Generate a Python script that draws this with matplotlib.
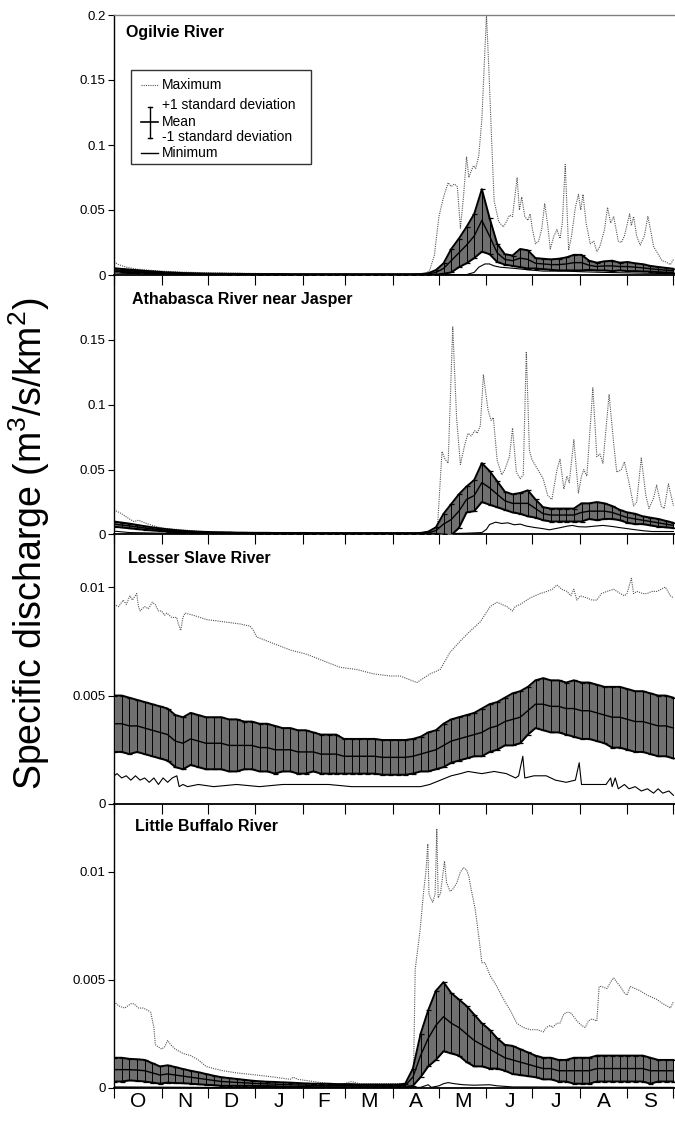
import numpy as np
import matplotlib
matplotlib.use('Agg')
import matplotlib.pyplot as plt
from matplotlib.lines import Line2D
from matplotlib.patches import Rectangle

plt.rcParams['font.family'] = ['Liberation Sans', 'DejaVu Sans']
plt.rcParams['mathtext.fontset'] = 'custom'
plt.rcParams['mathtext.rm'] = 'Liberation Sans'
plt.rcParams['mathtext.it'] = 'Liberation Sans:italic'

# --- Data: water year day (0 = 1 Oct) ---
months = ['O', 'N', 'D', 'J', 'F', 'M', 'A', 'M', 'J', 'J', 'A', 'S']
month_edges = [0, 31, 61, 92, 123, 151, 182, 212, 243, 273, 304, 335, 365]

# 5-day grid for mean and standard deviation
days = np.arange(0, 366, 5)

# Ogilvie River
ogilvie_mean = [
    0.0040, 0.0036, 0.0032, 0.0028, 0.0024, 0.0021, 0.0018, 0.0015, 0.0013, 0.0011, 0.0010, 0.0009, 0.0008,
    0.0007, 0.0007, 0.0006, 0.0006, 0.0006, 0.0005, 0.0005, 0.0005, 0.0005, 0.0005, 0.0004, 0.0004, 0.0004, 0.0004,
    0.0004, 0.0004, 0.0004, 0.0004, 0.0004, 0.0004, 0.0004, 0.0004, 0.0004, 0.0004, 0.0004, 0.0004, 0.0004, 0.0005,
    0.0008, 0.0020, 0.0050, 0.0110, 0.0170, 0.0230, 0.0300, 0.0420, 0.0300, 0.0170, 0.0120, 0.0110, 0.0130, 0.0120,
    0.0090, 0.0085, 0.0080, 0.0080, 0.0085, 0.0095, 0.0095, 0.0075, 0.0065, 0.0070, 0.0070, 0.0065, 0.0065, 0.0060,
    0.0055, 0.0048, 0.0042, 0.0037, 0.0033]
ogilvie_sd = [
    0.0012, 0.0011, 0.0010, 0.0009, 0.0008, 0.0007, 0.0006, 0.0005, 0.0005, 0.0004, 0.0004, 0.0003, 0.0003,
    0.0003, 0.0003, 0.0003, 0.0003, 0.0002, 0.0002, 0.0002, 0.0002, 0.0002, 0.0002, 0.0002, 0.0002, 0.0002, 0.0002,
    0.0002, 0.0002, 0.0002, 0.0002, 0.0002, 0.0002, 0.0002, 0.0002, 0.0002, 0.0002, 0.0002, 0.0002, 0.0002, 0.0002,
    0.0006, 0.0018, 0.0040, 0.0090, 0.0110, 0.0140, 0.0170, 0.0240, 0.0140, 0.0070, 0.0040, 0.0040, 0.0070, 0.0070,
    0.0040, 0.0040, 0.0040, 0.0045, 0.0050, 0.0060, 0.0060, 0.0035, 0.0030, 0.0035, 0.0040, 0.0030, 0.0035, 0.0030,
    0.0028, 0.0022, 0.0020, 0.0018, 0.0015]
ogilvie_max_day = [
    0, 3, 8, 15, 25, 31, 45, 61, 92, 123, 151, 182, 200, 204, 206, 209, 212, 215, 218, 220, 222, 224, 226, 228,
    230, 231.5, 233, 234.5, 236, 238, 240, 241.5, 243, 244.5, 246.5, 248, 251, 254, 256, 258, 260, 263, 264.5,
    266, 268, 270, 271.5, 273, 275, 277, 279, 281, 283, 284.6, 287, 289, 291, 292.5, 294.4, 296.6, 298.5, 301,
    303, 304.5, 306, 308, 310.7, 313, 315, 317, 320, 322, 324, 326, 329, 331, 333, 336.4, 337.5, 339, 341,
    343.3, 346, 348.3, 350, 352, 355, 357.5, 360, 363, 365]
ogilvie_max = [
    0.010, 0.008, 0.006, 0.0045, 0.0035, 0.003, 0.0022, 0.0017, 0.0012, 0.0009, 0.0008, 0.0007, 0.0008, 0.0015,
    0.004, 0.015, 0.045, 0.060, 0.071, 0.068, 0.070, 0.068, 0.036, 0.060, 0.091, 0.075, 0.080, 0.084, 0.082,
    0.092, 0.120, 0.160, 0.200, 0.160, 0.100, 0.057, 0.041, 0.037, 0.041, 0.046, 0.045, 0.075, 0.050, 0.060,
    0.045, 0.042, 0.047, 0.035, 0.024, 0.026, 0.035, 0.055, 0.038, 0.020, 0.030, 0.035, 0.028, 0.040, 0.085,
    0.019, 0.030, 0.052, 0.062, 0.050, 0.062, 0.040, 0.024, 0.026, 0.018, 0.022, 0.035, 0.052, 0.040, 0.045,
    0.026, 0.025, 0.030, 0.047, 0.038, 0.045, 0.030, 0.023, 0.030, 0.045, 0.035, 0.022, 0.016, 0.011, 0.010,
    0.008, 0.012]
ogilvie_min_day = [0, 15, 31, 61, 182, 230, 235, 238, 242, 245, 248, 252, 262, 270, 280, 295, 305, 320, 340, 365]
ogilvie_min = [0.0015, 0.001, 0.0006, 0.0003, 0.0002, 0.0003, 0.002, 0.006, 0.0085, 0.0085, 0.007, 0.006,
               0.005, 0.004, 0.003, 0.003, 0.0025, 0.002, 0.0015, 0.001]

# Athabasca River near Jasper
athabasca_mean = [
    0.0080, 0.0073, 0.0066, 0.0058, 0.0050, 0.0043, 0.0037, 0.0031, 0.0026, 0.0022, 0.0019, 0.0017, 0.0015,
    0.0014, 0.0013, 0.0012, 0.0011, 0.0011, 0.0010, 0.0010, 0.0010, 0.0009, 0.0009, 0.0009, 0.0009, 0.0009, 0.0008,
    0.0008, 0.0008, 0.0008, 0.0008, 0.0008, 0.0008, 0.0008, 0.0008, 0.0008, 0.0008, 0.0008, 0.0008, 0.0008, 0.0009,
    0.0012, 0.0030, 0.0080, 0.0115, 0.0180, 0.0270, 0.0300, 0.0400, 0.0360, 0.0310, 0.0260, 0.0240, 0.0240, 0.0240,
    0.0200, 0.0160, 0.0150, 0.0150, 0.0150, 0.0150, 0.0170, 0.0180, 0.0180, 0.0180, 0.0170, 0.0150, 0.0130, 0.0120,
    0.0110, 0.0100, 0.0090, 0.0080, 0.0070]
athabasca_sd = [
    0.0020, 0.0019, 0.0018, 0.0016, 0.0014, 0.0012, 0.0010, 0.0009, 0.0008, 0.0007, 0.0006, 0.0005, 0.0005,
    0.0004, 0.0004, 0.0004, 0.0003, 0.0003, 0.0003, 0.0003, 0.0003, 0.0003, 0.0003, 0.0003, 0.0003, 0.0003, 0.0003,
    0.0003, 0.0003, 0.0003, 0.0003, 0.0003, 0.0003, 0.0003, 0.0003, 0.0003, 0.0003, 0.0003, 0.0003, 0.0003, 0.0003,
    0.0010, 0.0025, 0.0080, 0.0120, 0.0130, 0.0100, 0.0120, 0.0150, 0.0130, 0.0100, 0.0070, 0.0070, 0.0080, 0.0100,
    0.0070, 0.0050, 0.0050, 0.0050, 0.0050, 0.0050, 0.0070, 0.0060, 0.0070, 0.0060, 0.0050, 0.0040, 0.0040, 0.0040,
    0.0030, 0.0030, 0.0030, 0.0025, 0.0020]
athabasca_max_day = [
    0, 5, 10, 13, 16, 20, 25, 31, 40, 50, 61, 92, 150, 190, 205, 211, 214, 216, 218, 221, 223.5, 226, 229, 231,
    233, 235.5, 237, 239, 241, 244, 246, 247.5, 250, 253, 255, 258, 260, 262.5, 265, 267, 269, 271, 272.6, 275,
    277.5, 280, 283, 285.7, 289, 291, 293.5, 295.5, 297, 300, 303, 305, 306.5, 308.5, 312.4, 315, 317, 319, 323,
    326, 328, 331, 333, 336, 339, 341, 344, 347, 349, 352, 354, 357, 359, 361.7, 365]
athabasca_max = [
    0.019, 0.016, 0.012, 0.010, 0.011, 0.009, 0.007, 0.005, 0.004, 0.003, 0.002, 0.0015, 0.001, 0.001, 0.001,
    0.005, 0.064, 0.058, 0.055, 0.160, 0.090, 0.054, 0.070, 0.078, 0.076, 0.080, 0.078, 0.084, 0.123, 0.096,
    0.088, 0.090, 0.057, 0.046, 0.050, 0.060, 0.082, 0.048, 0.043, 0.046, 0.141, 0.065, 0.058, 0.053, 0.048,
    0.043, 0.030, 0.027, 0.050, 0.058, 0.035, 0.045, 0.040, 0.073, 0.032, 0.045, 0.050, 0.045, 0.113, 0.060,
    0.062, 0.055, 0.108, 0.070, 0.048, 0.050, 0.056, 0.040, 0.022, 0.025, 0.059, 0.030, 0.020, 0.028, 0.038,
    0.022, 0.020, 0.039, 0.022]
athabasca_min_day = [0, 10, 31, 61, 120, 200, 215, 230, 240, 243, 245, 249, 253, 257, 261, 265, 269, 275, 280,
                     284, 290, 296, 299, 303, 308, 314, 319, 325, 330, 335, 340.5, 346, 351, 365]
athabasca_min = [0.0026, 0.0015, 0.001, 0.0006, 0.0004, 0.0004, 0.0006, 0.001, 0.0015, 0.004, 0.0077, 0.0095,
                 0.0085, 0.0090, 0.0075, 0.0080, 0.0065, 0.0053, 0.0045, 0.0036, 0.0050, 0.0065, 0.0070, 0.0060,
                 0.0058, 0.0065, 0.0070, 0.0062, 0.0053, 0.0045, 0.0036, 0.0028, 0.0023, 0.0023]

# Lesser Slave River
lesser_mean = [
    0.0037, 0.0037, 0.0036, 0.0036, 0.0035, 0.0034, 0.0033, 0.0032, 0.0029, 0.0028, 0.0030, 0.0029, 0.0028,
    0.0028, 0.0028, 0.0027, 0.0027, 0.0027, 0.0027, 0.0026, 0.0026, 0.0025, 0.0025, 0.0025, 0.0024, 0.0024, 0.0024,
    0.0023, 0.0023, 0.0023, 0.0022, 0.0022, 0.0022, 0.0022, 0.0022, 0.00215, 0.00215, 0.00215, 0.00215, 0.0022,
    0.0023,
    0.0024, 0.0025, 0.0027, 0.0029, 0.0030, 0.0031, 0.0032, 0.0033, 0.0035, 0.0036, 0.0038, 0.0039, 0.0040, 0.0043,
    0.0046, 0.0046, 0.0045, 0.0045, 0.0044, 0.0044, 0.0043, 0.0043, 0.0042, 0.0041, 0.0040, 0.0040, 0.0039, 0.0038,
    0.0038, 0.0037, 0.0036, 0.0036, 0.0035]
lesser_sd = [
    0.0013, 0.0013, 0.0013, 0.0012, 0.0012, 0.0012, 0.0012, 0.0012, 0.0012, 0.0012, 0.0012, 0.0012, 0.0012,
    0.0012, 0.0012, 0.0012, 0.0012, 0.0011, 0.0011, 0.0011, 0.0011, 0.0011, 0.0010, 0.0010, 0.0010, 0.0010, 0.0009,
    0.0009, 0.0009, 0.0009, 0.0008, 0.0008, 0.0008, 0.0008, 0.0008, 0.0008, 0.0008, 0.0008, 0.0008, 0.0008, 0.0008,
    0.0009, 0.0009, 0.0010, 0.0010, 0.0010, 0.0010, 0.0010, 0.0011, 0.0011, 0.0011, 0.0011, 0.0012, 0.0012, 0.0011,
    0.0011, 0.0012, 0.0012, 0.0012, 0.0012, 0.0013, 0.0013, 0.0013, 0.0013, 0.0013, 0.0014, 0.0014, 0.0014, 0.0014,
    0.0014, 0.0014, 0.0014, 0.0014, 0.0014]
lesser_max_day = [
    0, 3, 6, 8, 10.4, 12, 14.8, 16, 17, 20, 22.4, 25, 26.8, 29, 31, 33, 34.4, 37.6, 40.9, 42, 43.5, 45, 46.3,
    51.8, 60.5, 71.4, 82.2, 88.8, 91, 93.1, 104, 114.9, 125.8, 136.6, 147.5, 158.4, 169.3, 180.2, 186.7, 197.6,
    206.3, 212.8, 219.3, 225.8, 231.3, 239, 245.4, 249.8, 256.3, 260, 261.7, 265, 271.5, 278, 282.4, 286, 289,
    292, 295.5, 298, 300, 302, 304.2, 308.5, 312, 315, 318, 321.6, 326, 330.3, 333, 334.7, 337.5, 339, 341.2,
    345, 347.7, 351, 354.2, 357, 359.7, 363, 365]
lesser_max = [
    0.0092, 0.0091, 0.0094, 0.0092, 0.0096, 0.0094, 0.0097, 0.0091, 0.0089, 0.0091, 0.0090, 0.0093, 0.0092,
    0.0089, 0.0089, 0.0087, 0.0088, 0.0086, 0.0086, 0.0083, 0.0080, 0.0086, 0.0088, 0.0087, 0.0085, 0.0084,
    0.0083, 0.0082, 0.0080, 0.0077, 0.0074, 0.0071, 0.0069, 0.0066, 0.0063, 0.0062, 0.0060, 0.0059, 0.0059,
    0.0056, 0.0060, 0.0062, 0.0070, 0.0075, 0.0079, 0.0084, 0.0091, 0.0093, 0.0091, 0.0089, 0.0091, 0.0092,
    0.0095, 0.0097, 0.0098, 0.0099, 0.0101, 0.0099, 0.0098, 0.0096, 0.0099, 0.0094, 0.0096, 0.0095, 0.0094,
    0.0094, 0.0097, 0.0098, 0.0099, 0.0097, 0.0096, 0.0097, 0.0104, 0.0097, 0.0098, 0.0097, 0.0097, 0.0098,
    0.0098, 0.0099, 0.0100, 0.0096, 0.0095]
lesser_min_day = [
    0, 2, 5, 8, 11, 14, 17, 20, 23, 26, 29, 32, 35, 38, 41, 42.5, 45, 48, 55, 65, 80, 95, 110, 125, 140, 155,
    170, 185, 200, 206, 213, 220, 226, 231, 240, 248, 256, 262, 264, 266.7, 268, 274, 282, 288, 295, 301, 303.5,
    305, 313, 321, 324, 325, 327, 329, 333, 336, 340, 344, 348, 352, 355, 358, 362, 365]
lesser_min = [
    0.0013, 0.0014, 0.0012, 0.0013, 0.0011, 0.0013, 0.0011, 0.0012, 0.0010, 0.0012, 0.0009, 0.0012, 0.0010,
    0.0012, 0.0013, 0.0008, 0.0009, 0.0008, 0.0009, 0.0008, 0.0009, 0.0008, 0.0009, 0.0009, 0.0009, 0.0008,
    0.0008, 0.0008, 0.0008, 0.0009, 0.0011, 0.0013, 0.0014, 0.0015, 0.0014, 0.0015, 0.0014, 0.0012, 0.0013,
    0.0022, 0.0012, 0.0013, 0.0013, 0.0011, 0.0010, 0.0011, 0.0019, 0.0009, 0.0009, 0.0009, 0.0012, 0.0008,
    0.0012, 0.0007, 0.0009, 0.0007, 0.0008, 0.0006, 0.0007, 0.0005, 0.0007, 0.0005, 0.0006, 0.0004]

# Little Buffalo River
buffalo_mean = [
    0.00085, 0.00085, 0.00085, 0.00083, 0.0008, 0.0007, 0.0006, 0.00065, 0.0006, 0.00055, 0.0005, 0.00045, 0.0004,
    0.00035, 0.0003, 0.00028, 0.00026, 0.00024, 0.00022, 0.0002, 0.00019, 0.00018, 0.00016, 0.00015, 0.00014,
    0.00013, 0.00012, 0.00012, 0.00012, 0.00011, 0.00011, 0.00011, 0.0001, 0.0001, 0.0001, 0.0001, 0.0001,
    0.0001, 0.00012, 0.0005, 0.0015,
    0.0023, 0.0029, 0.0033, 0.0030, 0.0028, 0.0025, 0.0022, 0.0020, 0.0018, 0.0016, 0.0014, 0.0013, 0.0012, 0.0011,
    0.0010, 0.0009, 0.0009, 0.0008, 0.0008, 0.0008, 0.0008, 0.0008, 0.0009, 0.0009, 0.0009, 0.0009, 0.0009, 0.0009,
    0.0009, 0.0008, 0.0008, 0.0008, 0.0008]
buffalo_sd = [
    0.00055, 0.00055, 0.0005, 0.0005, 0.0005, 0.00045, 0.0004, 0.0004, 0.00037, 0.00033, 0.0003, 0.00028, 0.00025,
    0.00022, 0.0002, 0.00018, 0.00016, 0.00014, 0.00012, 0.00011, 0.0001, 0.0001, 0.0001, 0.0001, 0.00009,
    0.00008, 0.00008, 0.00008, 0.00008, 0.00007, 0.00007, 0.00007, 0.00006, 0.00006, 0.00006, 0.00006, 0.00006,
    0.00006, 0.00008, 0.0004, 0.0010,
    0.0013, 0.0016, 0.0016, 0.0014, 0.0013, 0.0013, 0.0012, 0.0010, 0.0009, 0.0007, 0.0006, 0.00065, 0.0006,
    0.00055, 0.0005, 0.0005, 0.0005, 0.0005, 0.0005, 0.0006, 0.0006, 0.0006, 0.0006, 0.0006, 0.0006, 0.0006,
    0.0006, 0.0006, 0.0006, 0.0006, 0.0005, 0.0005, 0.0005]
buffalo_max_day = [
    0, 3, 7, 11, 13, 16, 19, 22, 24, 26, 27, 29, 31, 33, 35, 37, 40, 45, 50, 55, 60, 65, 71, 80, 93, 105, 115,
    117, 120, 130, 140, 150, 155, 160, 175, 185, 192, 194, 195.5, 196.5, 199.7, 202, 203.5, 204.7, 205.5, 206.5,
    208, 209.5, 210.6, 211.5, 213, 215.6, 217, 219.3, 221, 223.7, 226, 228, 230, 231.5, 233, 235.6, 238, 240,
    242, 245.4, 249, 252, 255, 258.5, 262.8, 267, 271.5, 276, 280.2, 282, 284.6, 286, 289, 291, 293.3, 295,
    297.7, 300, 302, 305, 307.4, 309.5, 311.8, 315, 316.5, 318, 321.6, 324, 326, 328, 330.3, 333, 334.7, 336.8,
    340, 343.3, 347.7, 351, 354.2, 358, 360.8, 363, 365]
buffalo_max = [
    0.0040, 0.0038, 0.0037, 0.0039, 0.0039, 0.0037, 0.0037, 0.0036, 0.0035, 0.0028, 0.0020, 0.0019, 0.0018,
    0.0019, 0.0022, 0.0020, 0.0018, 0.0016, 0.0015, 0.0013, 0.0010, 0.0009, 0.0008, 0.0007, 0.0006, 0.0005,
    0.0004, 0.0005, 0.0004, 0.0003, 0.0002, 0.0002, 0.0003, 0.0002, 0.0002, 0.0002, 0.0002, 0.0006, 0.0010,
    0.0055, 0.0073, 0.0091, 0.0100, 0.0113, 0.0090, 0.0088, 0.0086, 0.0090, 0.0120, 0.0088, 0.0090, 0.0105,
    0.0095, 0.0091, 0.0092, 0.0095, 0.0100, 0.0102, 0.0101, 0.0098, 0.0092, 0.0083, 0.0070, 0.0058, 0.0058,
    0.0052, 0.0048, 0.0044, 0.0040, 0.0036, 0.0030, 0.0028, 0.0027, 0.0027, 0.0026, 0.0028, 0.0029, 0.0028,
    0.0030, 0.0030, 0.0034, 0.0035, 0.0035, 0.0033, 0.0031, 0.0029, 0.0028, 0.0031, 0.0032, 0.0031, 0.0047,
    0.0047, 0.0046, 0.0049, 0.0051, 0.0049, 0.0047, 0.0044, 0.0043, 0.0047, 0.0046, 0.0045, 0.0043, 0.0042,
    0.0041, 0.0039, 0.0038, 0.0037, 0.0040]
buffalo_min_day = [0, 60, 200, 203, 205, 207, 212, 215, 218, 222, 228, 235, 245, 250, 260, 365]
buffalo_min = [0.00005, 0.00003, 0.00003, 0.0001, 0.00015, 0.00003, 0.0001, 0.0002, 0.00025, 0.0002, 0.00015,
               0.00013, 0.00015, 0.0001, 0.00005, 0.00003]

panels = [
    ('Ogilvie River', ogilvie_mean, ogilvie_sd, ogilvie_max_day, ogilvie_max, ogilvie_min_day, ogilvie_min),
    ('Athabasca River near Jasper', athabasca_mean, athabasca_sd, athabasca_max_day, athabasca_max,
     athabasca_min_day, athabasca_min),
    ('Lesser Slave River', lesser_mean, lesser_sd, lesser_max_day, lesser_max, lesser_min_day, lesser_min),
    ('Little Buffalo River', buffalo_mean, buffalo_sd, buffalo_max_day, buffalo_max, buffalo_min_day, buffalo_min),
]
y_tops = [0.2, 0.2, 0.0124, 0.0131]
y_ticks = [[0, 0.05, 0.1, 0.15, 0.2], [0, 0.05, 0.1, 0.15], [0, 0.005, 0.01], [0, 0.005, 0.01]]
y_ticklabels = [['0', '0.05', '0.1', '0.15', '0.2'], ['0', '0.05', '0.1', '0.15'],
                ['0', '0.005', '0.01'], ['0', '0.005', '0.01']]

# --- Layout in pixels ---
W, H = 675, 1122
fig = plt.figure(figsize=(W / 100, H / 100), dpi=100)


def fx(px):
    return px / W


def fy(py):
    return 1 - py / H


panel_px = [(15, 275), (275, 534.5), (535, 804), (805, 1088)]
title_px = [(126, 37), (131.5, 304), (128, 563), (135, 831)]
x_left, x_right = 114, 675

for i, (name, mean, sd, mx_day, mx, mn_day, mn) in enumerate(panels):
    top, bot = panel_px[i]
    ax = fig.add_axes([fx(x_left), fy(bot), fx(x_right - x_left), (bot - top) / H])
    mean = np.array(mean)
    sd = np.array(sd)

    ax.plot(mx_day, mx, color='#555555', lw=0.8, ls=(0, (1, 1)), zorder=2)
    ax.plot(mn_day, mn, color='black', lw=0.8, zorder=2)
    ax.fill_between(days, mean - sd, mean + sd, color='#707070', lw=0, zorder=3)
    ax.errorbar(days, mean, yerr=sd, fmt='none', ecolor='black', elinewidth=0.7,
                capsize=1.8, capthick=0.9, zorder=4)
    ax.plot(days, mean + sd, color='black', lw=1.4, zorder=4)
    ax.plot(days, mean - sd, color='black', lw=1.4, zorder=4)
    ax.plot(days, mean, color='black', lw=1.0, zorder=5)

    ax.set_xlim(0, 366)
    ax.set_ylim(0, y_tops[i])
    ax.set_yticks(y_ticks[i])
    ax.set_yticklabels(y_ticklabels[i])
    ax.tick_params(axis='y', direction='out', length=4, width=0.8, labelsize=9.5, pad=2)

    ax.set_xticks(month_edges)
    ax.set_xticklabels([])
    ax.tick_params(axis='x', which='major', direction='out', length=7, width=0.8)
    if i == 3:
        mids = [(month_edges[k] + month_edges[k + 1]) / 2 for k in range(12)]
        ax.set_xticks(mids, minor=True)
        ax.set_xticklabels(months, minor=True)
        ax.tick_params(axis='x', which='minor', length=0, labelsize=15, pad=3)

    ax.spines['right'].set_visible(False)
    if i == 0:
        ax.spines['top'].set_color('#808080')
        ax.spines['top'].set_linewidth(1.0)
    else:
        ax.spines['top'].set_visible(False)
    ax.spines['left'].set_linewidth(1.0)
    ax.spines['bottom'].set_linewidth(1.3)
    ax.patch.set_alpha(0)

    tx, ty = title_px[i]
    fig.text(fx(tx), fy(ty), name, fontsize=11.5, fontweight='bold', va='baseline', ha='left')

fig.text(fx(29), fy(544), 'Specific discharge (m$^3$/s/km$^2$)', rotation=90,
         fontsize=27, ha='center', va='center')

# --- Legend (drawn by hand, in pixels) ---
fig.add_artist(Rectangle((fx(130.7), fy(164)), fx(180), 94 / H, fill=False, edgecolor='#333333', lw=1.0))
fig.add_artist(Line2D([fx(141), fx(158)], [fy(85), fy(85)], color='#555555', lw=0.8, ls=(0, (1, 1))))
fig.add_artist(Line2D([fx(150), fx(150)], [fy(107), fy(138)], color='black', lw=1.0))
fig.add_artist(Line2D([fx(148), fx(152)], [fy(107), fy(107)], color='black', lw=1.0))
fig.add_artist(Line2D([fx(148), fx(152)], [fy(138), fy(138)], color='black', lw=1.0))
fig.add_artist(Line2D([fx(141), fx(158)], [fy(122), fy(122)], color='black', lw=1.2))
fig.add_artist(Line2D([fx(141), fx(158)], [fy(153), fy(153)], color='black', lw=1.0))
for label, ly in [('Maximum', 85), ('+1 standard deviation', 105), ('Mean', 122),
                  ('-1 standard deviation', 137), ('Minimum', 153)]:
    fig.text(fx(161.5), fy(ly), label, fontsize=10, va='center', ha='left')

fig.savefig('out.png', dpi=100)
